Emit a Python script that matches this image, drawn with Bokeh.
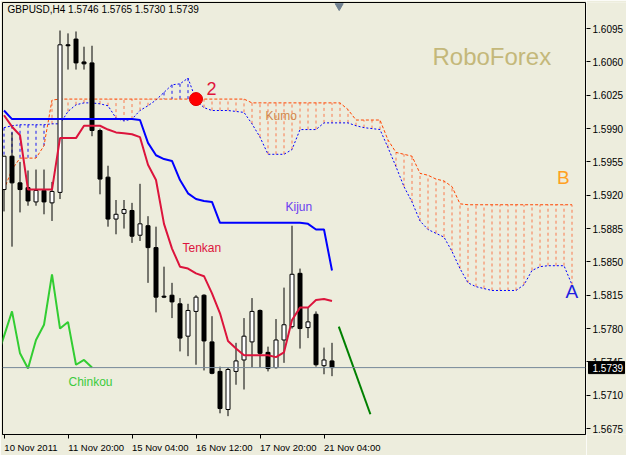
import numpy as np
from bokeh.plotting import figure
from bokeh.layouts import row
from bokeh.models import (Range1d, LinearAxis, FixedTicker, Label, Span,
                          CustomJSTickFormatter)
from bokeh.core.properties import value
from bokeh.embed import file_html
from bokeh.resources import INLINE

# ---------------- data (GBPUSD, H4) ----------------
symbol = "GBPUSD"
timeframe = "H4"
opens = [1.5926, 1.5961, 1.5933, 1.5928, 1.5913, 1.5925, 1.5912, 1.5923, 1.6078, 1.6084,
         1.6060, 1.6059, 1.5988, 1.5939, 1.5895, 1.5901, 1.5904, 1.5878, 1.5888, 1.5865,
         1.5814, 1.5815, 1.5806, 1.5772, 1.5798, 1.5815, 1.5766, 1.5735, 1.5695, 1.5735,
         1.5747, 1.5766, 1.5799, 1.5755, 1.5739, 1.5768, 1.5782, 1.5838, 1.5781, 1.5795,
         1.5741, 1.5746]
highs = [1.5961, 1.5986, 1.5955, 1.5946, 1.5947, 1.5947, 1.5934, 1.6093, 1.6090, 1.6092,
         1.6076, 1.6077, 1.5990, 1.5951, 1.5915, 1.5915, 1.5912, 1.5932, 1.5898, 1.5887,
         1.5845, 1.5828, 1.5812, 1.5806, 1.5815, 1.5816, 1.5793, 1.5740, 1.5739, 1.5765,
         1.5791, 1.5812, 1.5800, 1.5761, 1.5790, 1.5823, 1.5888, 1.5843, 1.5802, 1.5798,
         1.5760, 1.5765]
lows = [1.5903, 1.5866, 1.5902, 1.5909, 1.5909, 1.5900, 1.5893, 1.5916, 1.6052, 1.6052,
        1.6052, 1.5982, 1.5921, 1.5887, 1.5879, 1.5885, 1.5870, 1.5872, 1.5828, 1.5797,
        1.5812, 1.5791, 1.5756, 1.5751, 1.5742, 1.5736, 1.5732, 1.5691, 1.5688, 1.5721,
        1.5716, 1.5739, 1.5739, 1.5735, 1.5738, 1.5744, 1.5780, 1.5759, 1.5770, 1.5740,
        1.5732, 1.5730]
closes = [1.5961, 1.5933, 1.5926, 1.5914, 1.5925, 1.5913, 1.5924, 1.6078, 1.6077, 1.6059,
          1.6058, 1.5988, 1.5937, 1.5895, 1.5900, 1.5905, 1.5877, 1.5890, 1.5865, 1.5813,
          1.5813, 1.5808, 1.5770, 1.5799, 1.5813, 1.5767, 1.5733, 1.5696, 1.5737, 1.5746,
          1.5772, 1.5798, 1.5754, 1.5738, 1.5768, 1.5784, 1.5837, 1.5780, 1.5787, 1.5742,
          1.5747, 1.5739]
tenkan = [1.6004, 1.5992, 1.5983, 1.5926, 1.5926, 1.5926, 1.5926, 1.5980, 1.5980, 1.5980,
          1.5993, 1.5993, 1.5993, 1.5989, 1.5986, 1.5985, 1.5984, 1.5981, 1.5952, 1.5936,
          1.5890, 1.5864, 1.5845, 1.5843, 1.5838, 1.5835, 1.5817, 1.5796, 1.5767, 1.5759,
          1.5752, 1.5752, 1.5752, 1.5752, 1.5750, 1.5755, 1.5789, 1.5802, 1.5802, 1.5810,
          1.5811, 1.5809]
kijun = [1.6009, 1.6000, 1.6000, 1.6000, 1.6000, 1.6000, 1.6000, 1.6000, 1.6000, 1.6000,
         1.6000, 1.6000, 1.6000, 1.6000, 1.6000, 1.6000, 1.6000, 1.5999, 1.5975, 1.5962,
         1.5958, 1.5956, 1.5936, 1.5922, 1.5916, 1.5914, 1.5913, 1.5891, 1.5891, 1.5891,
         1.5891, 1.5891, 1.5891, 1.5891, 1.5891, 1.5891, 1.5891, 1.5891, 1.5890, 1.5884,
         1.5884, 1.5841]
span_a = [1.5991, 1.5993, 1.5994, 1.5994, 1.5994, 1.5994, 1.5995, 1.5995, 1.6008, 1.6015,
          1.6017, 1.6017, 1.6016, 1.6014, 1.6001, 1.5998, 1.6000, 1.6009, 1.6014, 1.6020,
          1.6028, 1.6036, 1.6037, 1.6043, 1.6020, 1.6012, 1.6009, 1.6009, 1.6009, 1.6008,
          1.6007, 1.5995, 1.5981, 1.5963, 1.5963, 1.5963, 1.5968, 1.5989, 1.5989, 1.5989,
          1.5996, 1.5996, 1.5996, 1.5996, 1.5993, 1.5991, 1.5990, 1.5989, 1.5970, 1.5950,
          1.5929, 1.5913, 1.5893, 1.5884, 1.5880, 1.5876, 1.5861, 1.5843, 1.5828, 1.5824,
          1.5822, 1.5820, 1.5820, 1.5820, 1.5820, 1.5826, 1.5841, 1.5845, 1.5846, 1.5846,
          1.5846, 1.5826]
span_b = [1.5926, 1.5947, 1.5959, 1.5959, 1.5959, 1.5972, 1.6020, 1.6021, 1.6021, 1.6021,
          1.6021, 1.6021, 1.6021, 1.6021, 1.6021, 1.6021, 1.6021, 1.6021, 1.6021, 1.6021,
          1.6021, 1.6021, 1.6021, 1.6021, 1.6021, 1.6021, 1.6021, 1.6021, 1.6021, 1.6021,
          1.6021, 1.6017, 1.6017, 1.6017, 1.6017, 1.6017, 1.6017, 1.6017, 1.6017, 1.6017,
          1.6017, 1.6017, 1.6017, 1.6010, 1.5999, 1.5999, 1.5999, 1.5999, 1.5978, 1.5965,
          1.5963, 1.5961, 1.5943, 1.5941, 1.5937, 1.5935, 1.5929, 1.5911, 1.5910, 1.5910,
          1.5910, 1.5910, 1.5910, 1.5910, 1.5910, 1.5910, 1.5910, 1.5910, 1.5910, 1.5910,
          1.5910, 1.5910]
chinkou_shift = 30
trend_x = [41.85, 45.8]          # hand-drawn trend line (bar index)
trend_y = [1.5782, 1.5690]
cross_bar = 24                    # marked "2"
price_ticks = [1.5675, 1.5710, 1.5745, 1.5780, 1.5815, 1.5850, 1.5885, 1.5920,
               1.5955, 1.5990, 1.6025, 1.6060, 1.6095]
date_ticks = [0, 8, 16, 24, 32, 40]
date_labels = ["10 Nov 2011", "11 Nov 20:00", "15 Nov 04:00", "16 Nov 12:00",
               "17 Nov 20:00", "21 Nov 04:00"]

# ---------------- styling / layout ----------------
BG = "#EDEDDD"
FONT = "Liberation Sans"
H = 455
MAIN_W, SCALE_W = 586, 40
FRAME_L, FRAME_T, FRAME_R, FRAME_B = 2, 2, 585, 437
X_LO, X_HI = -0.1875, 72.6875
Y_LO, Y_HI = 1.566874, 1.612243
px_y = (Y_HI - Y_LO) / (FRAME_B - FRAME_T)
DATE_PX = 9.5
ADV = {"0": .556, "1": .556, "2": .556, "3": .556, "4": .556, "5": .556, "6": .556,
       "7": .556, "8": .556, "9": .556, " ": .278, ":": .278, "N": .722, "o": .556, "v": .5}
bar_px = (FRAME_R - FRAME_L) / (X_HI - X_LO)
label_centers = [t + sum(ADV.get(ch, .55) for ch in s) * DATE_PX / 2 / bar_px
                 for t, s in zip(date_ticks, date_labels)]

n = len(closes)
xs = np.arange(n)
o = np.array(opens); c = np.array(closes); h = np.array(highs); l = np.array(lows)
up = c >= o
y_range = Range1d(Y_LO, Y_HI)

p = figure(width=MAIN_W, height=H, x_range=Range1d(X_LO, X_HI), y_range=y_range,
           output_backend="svg", toolbar_location=None,
           x_axis_location=None, y_axis_location=None,
           min_border_left=FRAME_L, min_border_top=FRAME_T,
           min_border_right=MAIN_W - FRAME_R, min_border_bottom=H - FRAME_B,
           background_fill_color=BG, border_fill_color=BG,
           outline_line_color="black", outline_line_width=1)
p.grid.grid_line_color = None

date_fmt = CustomJSTickFormatter(args=dict(centers=label_centers, labels=date_labels), code="""
    for (let i = 0; i < centers.length; i++) {
        if (Math.abs(centers[i] - tick) < 1e-6) return labels[i];
    }
    return "";
""")
xaxis = LinearAxis(ticker=FixedTicker(ticks=label_centers, minor_ticks=date_ticks),
                   formatter=date_fmt,
                   major_tick_out=0, major_tick_in=0, minor_tick_out=4, minor_tick_in=0,
                   major_label_standoff=3, major_label_text_font=FONT,
                   major_label_text_font_size=f"{DATE_PX}px", major_label_text_color="black",
                   axis_line_color="black", minor_tick_line_color="black")
p.add_layout(xaxis, "below")

# cloud hatch
hatch_x = np.arange(len(span_a))
sa = np.array(span_a); sb = np.array(span_b)
hatch_col = ["#1818F0" if a > b else "#FA7A4E" for a, b in zip(sa, sb)]
p.segment(x0=hatch_x, y0=sa, x1=hatch_x, y1=sb, line_color=hatch_col,
          line_width=1, line_dash="3 3")
p.line(hatch_x, sa, line_color="#0000FF", line_width=1, line_dash="2 2")
p.line(hatch_x, sb, line_color="#FF4500", line_width=1, line_dash="3 2")

# candles
p.segment(x0=xs, y0=l, x1=xs, y1=h, line_color="black", line_width=1)
p.vbar(x=xs[up], width=0.5, top=c[up], bottom=o[up], fill_color="white",
       line_color="black", line_width=1)
p.vbar(x=xs[~up], width=0.5, top=o[~up], bottom=c[~up], fill_color="black",
       line_color="black", line_width=1)

# current price line
p.add_layout(Span(location=closes[-1], dimension="width", line_color="#778899", line_width=1))

# indicator lines
p.line(xs, tenkan, line_color="#DC143C", line_width=2)
p.line(xs, kijun, line_color="#0000FF", line_width=2)
p.line(xs - chinkou_shift, closes, line_color="#32CD32", line_width=2)
p.line(trend_x, trend_y, line_color="#008000", line_width=2)

# cross marker "2"
p.scatter([cross_bar], [span_b[cross_bar]], size=13, marker="circle",
          fill_color="#FF0000", line_color="#E00000")
# chart shift marker
p.scatter([n - 0.1], [Y_HI - 3.5 * px_y], size=8, marker="inverted_triangle",
          fill_color="#708090", line_color="#708090")

def lab(x, y, text, color, size, **kw):
    p.add_layout(Label(x=x, y=y, text=text, text_color=color, text_font=FONT,
                       text_font_size=size, **kw))

title = f"{symbol},{timeframe}  {opens[-1]:.4f} {highs[-1]:.4f} {lows[-1]:.4f} {closes[-1]:.4f}"
lab(0.44, 1.61096, title, "black", "10px")
lab(53.56, 1.60515, "RoboForex", "#C4B87A", "24px")
lab(22.31, 1.58575, "Tenkan", "#DC143C", "12px")
lab(35.19, 1.59003, "Kijun", "#6A3CF0", "12px")
lab(32.69, 1.59962, "Kumo", "#D2874B", "12px")
lab(8.06, 1.57162, "Chinkou", "#3CCB3C", "12px")
lab(25.31, 1.60254, "2", "#E0143C", "18px")
lab(69.13, 1.59277, "B", "#FFA020", "19px")
lab(70.19, 1.58078, "A", "#2020E0", "19px")

# ---------------- price scale panel ----------------
q = figure(width=SCALE_W, height=H, x_range=Range1d(0, SCALE_W), y_range=y_range,
           output_backend="svg", toolbar_location=None,
           x_axis_location=None, y_axis_location=None,
           min_border_left=0, min_border_right=0, min_border_top=FRAME_T,
           min_border_bottom=H - FRAME_B,
           background_fill_color=BG, border_fill_color=BG, outline_line_color=None)
q.grid.grid_line_color = None
scale_axis = LinearAxis(ticker=FixedTicker(ticks=price_ticks),
                        formatter=CustomJSTickFormatter(code="return '';"),
                        major_tick_in=4, major_tick_out=0, minor_tick_in=0, minor_tick_out=0,
                        major_label_standoff=0, major_label_text_font_size="1px",
                        axis_line_color=None, major_tick_line_color="black")
q.add_layout(scale_axis, "left")
q.text(x=[6] * len(price_ticks), y=price_ticks, text=[f"{t:.4f}" for t in price_ticks],
       text_baseline="middle", text_align="left", text_font=value(FONT),
       text_font_size="10px", text_color="black")
q.rect(x=[(2 + SCALE_W - 2) / 2], y=[closes[-1]], width=SCALE_W - 4, height=12,
       height_units="screen", fill_color="black", line_color="black")
q.text(x=[6], y=[closes[-1]], text=[f"{closes[-1]:.4f}"], text_baseline="middle",
       text_align="left", text_font=value(FONT), text_font_size="10px", text_color="white")

open("out.html", "w").write(file_html(row(p, q), INLINE))
